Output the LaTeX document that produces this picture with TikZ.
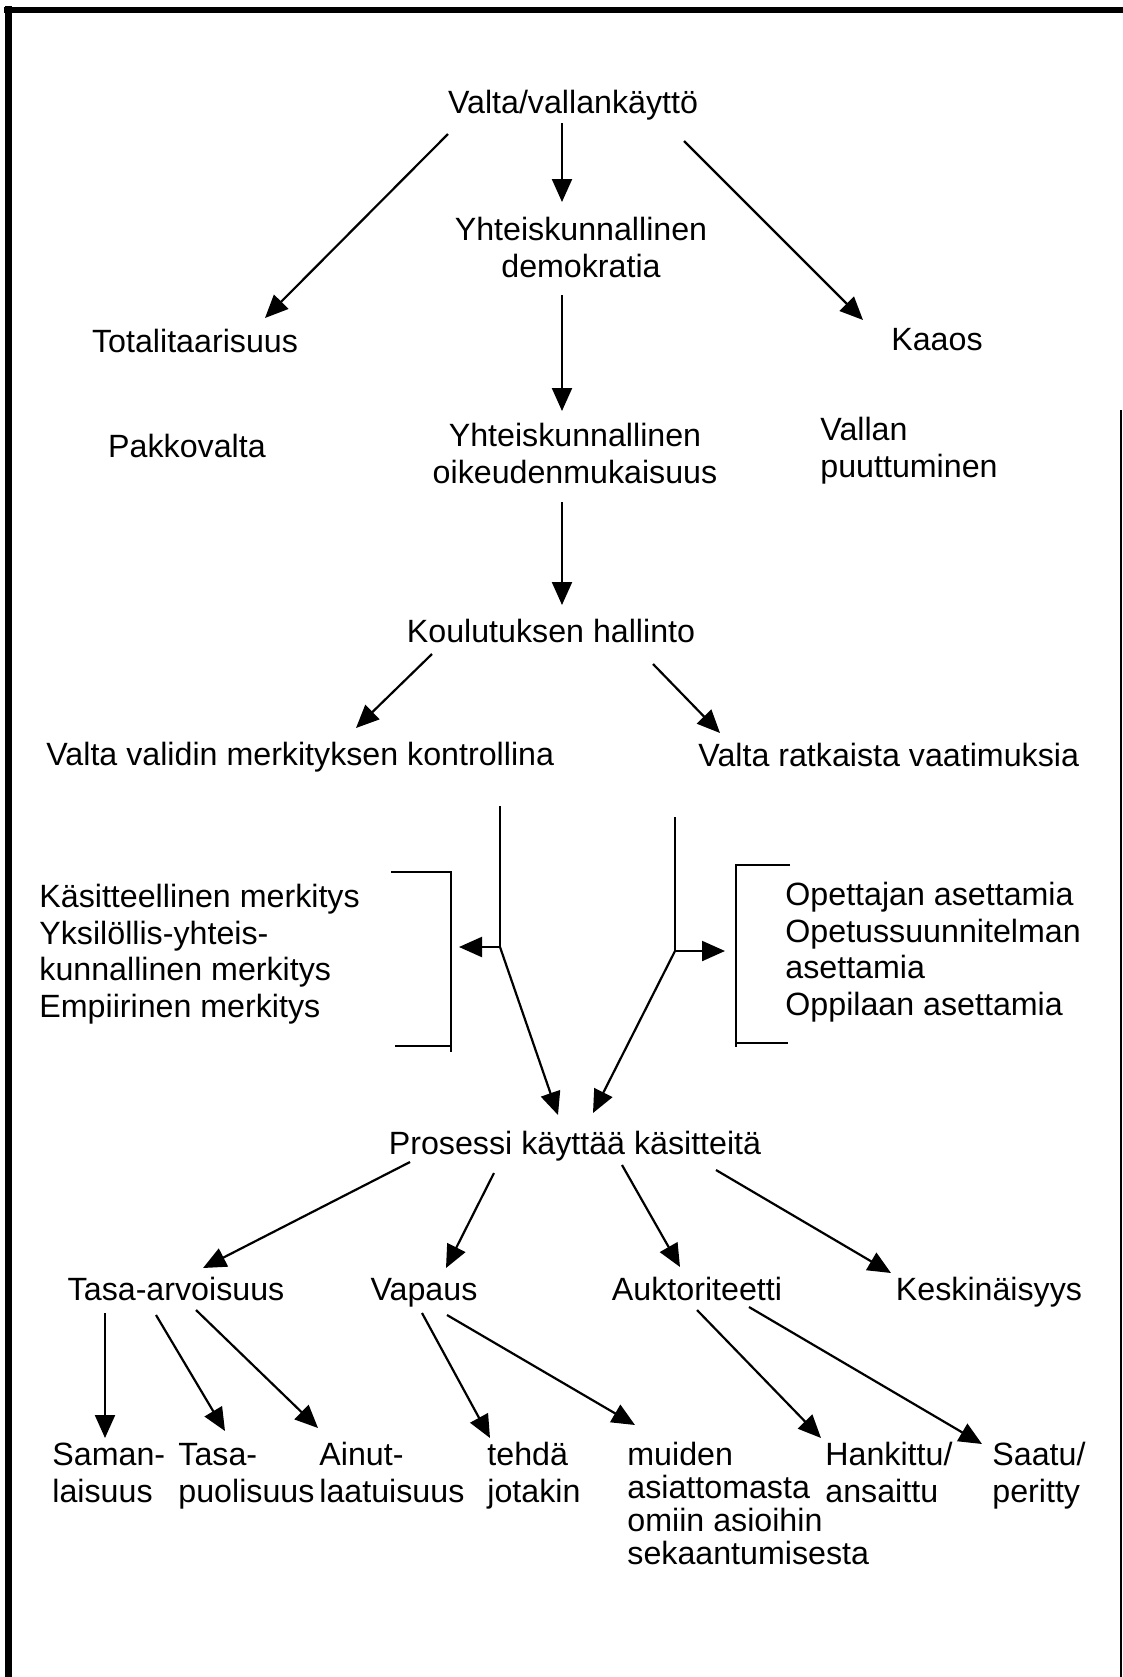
\documentclass[tikz,border=0pt]{standalone}
\usepackage{fontspec}
\setmainfont{Liberation Sans}
\usetikzlibrary{arrows.meta}
\begin{document}
\begin{tikzpicture}[x=0.5pt,y=-0.5pt,
  every node/.style={inner sep=0pt, font=\fontsize{16.1}{18.2}\selectfont},
  lbl/.style={anchor=base, align=center},
  lft/.style={anchor=base west, align=left},
  arr/.style={line width=1.1pt, -{Triangle[length=11.5pt,width=10pt]}},
  ln/.style={line width=1.1pt},
  brk/.style={line width=1.1pt}]
\useasboundingbox (0,0) rectangle (1123,1677);
\fill[white] (0,0) rectangle (1123,1677);
% frame
\draw[line width=3pt] (4,9.5) -- (1123,9.5);
\draw[line width=3.5pt] (8,6) -- (8,1677);
\draw[line width=0.8pt] (1121,410) -- (1121,1677);

% upper levels (multi-line nodes sit on the baseline of their last line)
\node[lbl] (valta) at (573,113) {Valta/vallankäyttö};
\node[lbl] (demok) at (581,277) {Yhteiskunnallinen\\demokratia};
\node[lbl] (total) at (195,352) {Totalitaarisuus};
\node[lbl] (kaaos) at (937,350) {Kaaos};
\node[lbl] (pakko) at (187,457) {Pakkovalta};
\node[lbl] (oikeud) at (575,483) {Yhteiskunnallinen\\oikeudenmukaisuus};
\node[lft] (vallan) at (820,477) {Vallan\\puuttuminen};
\node[lbl] (koul) at (551,642) {Koulutuksen hallinto};
\node[lft] (validin) at (46,765) {Valta validin merkityksen kontrollina};
\node[lft] (ratk) at (698,766) {Valta ratkaista vaatimuksia};

% bracketed lists
\node[lft] (llist) at (39,1017) {Käsitteellinen merkitys\\Yksilöllis-yhteis-\\kunnallinen merkitys\\Empiirinen merkitys};
\node[lft] (rlist) at (785,1015) {Opettajan asettamia\\Opetussuunnitelman\\asettamia\\Oppilaan asettamia};
\draw[brk] (391,872) -- (451,872) -- (451,1052);
\draw[brk] (395,1046) -- (451,1046);
\draw[brk] (790,865) -- (736,865) -- (736,1047);
\draw[brk] (736,1043) -- (788,1043);

% process level
\node[lbl] (proc) at (575,1154) {Prosessi käyttää käsitteitä};
\node[lbl] (tasa) at (176,1300) {Tasa-arvoisuus};
\node[lbl] (vapaus) at (424,1300) {Vapaus};
\node[lbl] (aukt) at (697,1300) {Auktoriteetti};
\node[lbl] (kesk) at (989,1300) {Keskinäisyys};

% leaves
\node[lft] (saman) at (52,1502) {Saman-\\laisuus};
\node[lft] (tasap) at (178,1502) {Tasa-\\puolisuus};
\node[lft] (ainut) at (319,1502) {Ainut-\\laatuisuus};
\node[lft] (tehda) at (487,1502) {tehdä\\jotakin};
\node[lft, font=\fontsize{16.1}{16.5}\selectfont] (muiden) at (627,1564) {muiden\\asiattomasta\\omiin asioihin\\sekaantumisesta};
\node[lft] (hank) at (825,1502) {Hankittu/\\ansaittu};
\node[lft] (saatu) at (992,1502) {Saatu/\\peritty};

% connectors, top
\draw[arr] ([shift={(-125,21)}]valta.base) -- ([shift={(70,-34)}]total.base);
\draw[arr] ([shift={(-11,10)}]valta.base) -- ([shift={(-19,-75)}]demok.base);
\draw[arr] ([shift={(111,28)}]valta.base) -- ([shift={(-74,-30)}]kaaos.base);
\draw[arr] ([shift={(-19,18)}]demok.base) -- ([shift={(-13,-72)}]oikeud.base);
\draw[arr] ([shift={(-13,19)}]oikeud.base) -- ([shift={(11,-37)}]koul.base);
\draw[arr] ([shift={(-119,12)}]koul.base) -- ([shift={(310,-37)}]validin.base west);
\draw[arr] ([shift={(102,22)}]koul.base) -- ([shift={(22,-33)}]ratk.base west);

% branches into the lists and the process
\coordinate (jl) at (500,947);
\coordinate (ltip) at (459,947);
\coordinate (jr) at (675,951);
\coordinate (rtip) at (725,951);
\draw[ln] ([shift={(454,41)}]validin.base west) -- (jl);
\draw[arr] (jl) -- (ltip);
\draw[arr] (jl) -- ([shift={(-17,-39)}]proc.base);
\draw[ln] ([shift={(-23,51)}]ratk.base west) -- (jr);
\draw[arr] (jr) -- (rtip);
\draw[arr] (jr) -- ([shift={(18,-41)}]proc.base);

% process to concepts
\draw[arr] ([shift={(-165,8)}]proc.base) -- ([shift={(27,-32)}]tasa.base);
\draw[arr] ([shift={(-81,19)}]proc.base) -- ([shift={(22,-32)}]vapaus.base);
\draw[arr] ([shift={(47,11)}]proc.base) -- ([shift={(-17,-33)}]aukt.base);
\draw[arr] ([shift={(141,16)}]proc.base) -- ([shift={(-98,-27)}]kesk.base);

% concepts to leaves
\draw[arr] ([shift={(-71,13)}]tasa.base) -- ([shift={(53,-64)}]saman.base west);
\draw[arr] ([shift={(-20,15)}]tasa.base) -- ([shift={(47,-71)}]tasap.base west);
\draw[arr] ([shift={(20,10)}]tasa.base) -- ([shift={(-1,-74)}]ainut.base west);
\draw[arr] ([shift={(-2,13)}]vapaus.base) -- ([shift={(3,-64)}]tehda.base west);
\draw[arr] ([shift={(23,15)}]vapaus.base) -- ([shift={(8,-139)}]muiden.base west);
\draw[arr] ([shift={(0,10)}]aukt.base) -- ([shift={(-4,-64)}]hank.base west);
\draw[arr] ([shift={(52,7)}]aukt.base) -- ([shift={(-10,-58)}]saatu.base west);
\end{tikzpicture}
\end{document}
